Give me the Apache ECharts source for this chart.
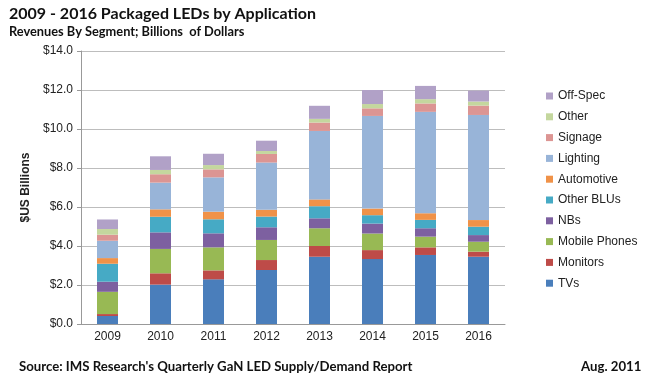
<!DOCTYPE html>
<html>
<head>
<meta charset="utf-8">
<script src="https://cdn.jsdelivr.net/npm/echarts@6/dist/echarts.min.js"></script>
<style>html,body{margin:0;padding:0;background:#fff;}#c{width:650px;height:381px;}</style>
</head>
<body>
<div id="c"></div>
<script>
const years = ['2009','2010','2011','2012','2013','2014','2015','2016'];
const tvs      = [0.41, 2.02, 2.29, 2.77, 3.45, 3.33, 3.54, 3.45];
const monitors = [0.10, 0.58, 0.46, 0.51, 0.55, 0.46, 0.39, 0.26];
const mobile   = [1.14, 1.25, 1.18, 1.03, 0.91, 0.85, 0.55, 0.51];
const nbs      = [0.52, 0.85, 0.72, 0.65, 0.51, 0.51, 0.43, 0.34];
const blus     = [0.92, 0.80, 0.72, 0.55, 0.62, 0.43, 0.43, 0.43];
const automotive = [0.29, 0.38, 0.39, 0.35, 0.35, 0.34, 0.34, 0.34];
const lighting = [0.89, 1.37, 1.76, 2.42, 3.51, 4.75, 5.20, 5.39];
const signage  = [0.31, 0.43, 0.41, 0.44, 0.43, 0.39, 0.43, 0.48];
const other    = [0.29, 0.22, 0.22, 0.15, 0.19, 0.22, 0.22, 0.21];
const offspec  = [0.49, 0.70, 0.58, 0.53, 0.67, 0.72, 0.68, 0.56];
const yTicks = [0, 2, 4, 6, 8, 10, 12, 14];

const seriesDefs = [
  ['TVs', tvs, '#4a7ebb'],
  ['Monitors', monitors, '#be4b48'],
  ['Mobile Phones', mobile, '#98b954'],
  ['NBs', nbs, '#7d60a0'],
  ['Other BLUs', blus, '#46aac5'],
  ['Automotive', automotive, '#f09248'],
  ['Lighting', lighting, '#98b4d8'],
  ['Signage', signage, '#dc9593'],
  ['Other', other, '#c4d79e'],
  ['Off-Spec', offspec, '#b1a1c7']
];

const chart = echarts.init(document.getElementById('c'), null, {renderer: 'canvas'});
chart.setOption({
  animation: false,
  backgroundColor: '#fff',
  title: [
    {text: '2009 - 2016 Packaged LEDs by Application', left: 9, top: 6, padding: 0,
     textStyle: {fontFamily: 'Lato', fontWeight: 'bold', fontSize: 16, color: '#111'}},
    {text: 'Revenues By Segment; Billions  of Dollars', left: 9, top: 25, padding: 0,
     textStyle: {fontFamily: 'Lato', fontWeight: 'bold', fontSize: 12.8, color: '#111'}},
    {text: "Source: IMS Research's Quarterly GaN LED Supply/Demand Report", left: 19, top: 360, padding: 0,
     textStyle: {fontFamily: 'Lato', fontWeight: 'bold', fontSize: 13.2, color: '#111'}},
    {text: 'Aug. 2011', left: 581, top: 360, padding: 0,
     textStyle: {fontFamily: 'Lato', fontWeight: 'bold', fontSize: 13.2, color: '#111'}}
  ],
  legend: {
    orient: 'vertical', left: 541, top: 84,
    data: seriesDefs.map(s => s[0]).reverse(),
    icon: 'rect', itemWidth: 7, itemHeight: 7, itemGap: 6.8,
    textStyle: {fontFamily: 'Liberation Sans', fontSize: 12, color: '#222', lineHeight: 14}
  },
  grid: {left: 81, right: 145, top: 51, bottom: 57},
  xAxis: {
    type: 'category', data: years,
    axisLine: {lineStyle: {color: '#999'}},
    axisTick: {length: 4, lineStyle: {color: '#999'}},
    axisLabel: {fontFamily: 'Liberation Sans', fontSize: 12, color: '#222', margin: 7}
  },
  yAxis: {
    type: 'value', min: 0, max: 14, interval: 2,
    name: '$US Billions', nameLocation: 'middle', nameGap: 47, nameRotate: 90,
    nameTextStyle: {fontFamily: 'Liberation Sans', fontSize: 12, fontWeight: 'bold', color: '#222'},
    axisLine: {show: true, lineStyle: {color: '#999'}},
    axisTick: {show: true, length: 4, lineStyle: {color: '#999'}},
    axisLabel: {fontFamily: 'Liberation Sans', fontSize: 12, color: '#222', margin: 8,
      formatter: v => yTicks.includes(v) ? '$' + v.toFixed(1) : ''},
    splitLine: {lineStyle: {color: '#bdbdbd'}}
  },
  series: seriesDefs.map(s => ({
    name: s[0], type: 'bar', stack: 'total', data: s[1], barWidth: 21,
    itemStyle: {color: s[2]}
  }))
});
</script>
</body>
</html>
